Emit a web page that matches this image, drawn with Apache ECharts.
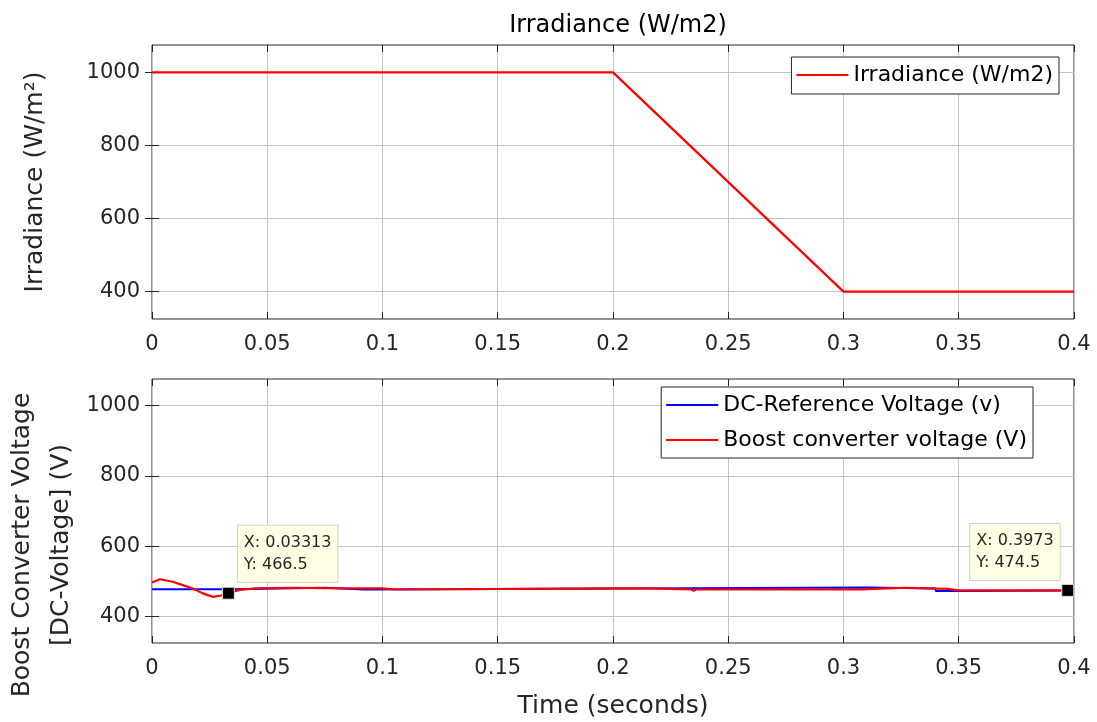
<!DOCTYPE html>
<html>
<head>
    <meta charset="UTF-8">
    <title>Irradiance and boost converter voltage</title>
    <script src="https://cdn.jsdelivr.net/npm/echarts/dist/echarts.min.js"></script>
    <style>
        body {margin: 0; background: #fff;}
        #main {width: 1097px; height: 722px;}
    </style>
</head>
<body>
<div id="main"></div>
<script>
    // irradiance profile (top plot)
    var irrTime = [0, 0.2, 0.3, 0.4];
    var irrValue = [1000, 1000, 400, 400];

    // DC reference voltage (blue)
    var refTime = [0, 0.035, 0.035, 0.075, 0.075, 0.092, 0.092, 0.207, 0.207, 0.311, 0.311, 0.34, 0.34, 0.348, 0.348, 0.4];
    var refVolt = [478, 478, 482, 482, 477, 477, 480, 480, 483, 483, 480, 480, 473, 473, 474.5, 474.5];

    // boost converter voltage (red)
    var boostTime = [0, 0.0035, 0.009, 0.014, 0.018, 0.022, 0.0265, 0.030, 0.03313, 0.038, 0.045, 0.05, 0.06, 0.075,
        0.1, 0.1005, 0.106, 0.1065, 0.2, 0.215, 0.2155, 0.234, 0.235, 0.236, 0.308, 0.3085, 0.319, 0.3195, 0.327, 0.3275,
        0.345, 0.35, 0.3973, 0.4];
    var boostVolt = [497, 506, 499, 488, 479, 466, 456, 460, 466.5, 476, 480, 481, 482, 481,
        480, 477, 477, 480, 480, 480, 477, 477, 473, 477, 477, 480, 480, 482, 482, 479,
        479, 474.5, 474.5, 474.5];

    // data tips [x, y]
    var datatips = [[0.03313, 466.5], [0.3973, 474.5]];

    var yTicks = [400, 600, 800, 1000];
    var yMin = 325, yMax = 1075;

    var font = 'DejaVu Sans, Liberation Sans, Arial, sans-serif';
    var ink = '#262626';

    function zip(xs, ys) {
        var out = [];
        for (var i = 0; i < xs.length; i++) out.push([xs[i], ys[i]]);
        return out;
    }

    function plain(v) { return String(v); }

    function xAxisFor(grid, isMain, name) {
        return {
            type: 'value', gridIndex: grid, min: 0, max: 0.4, interval: 0.05,
            position: isMain ? 'bottom' : 'top',
            axisLine: {show: false},
            axisTick: {show: true, inside: true, length: 7, lineStyle: {color: ink}},
            axisLabel: {show: isMain, margin: 15, fontSize: 21, color: ink, fontFamily: font, formatter: plain},
            splitLine: {show: isMain, lineStyle: {color: '#c4c4c4', width: 1}},
            name: name || '', nameLocation: 'middle', nameGap: 51, nameMoveOverlap: false,
            nameTextStyle: {fontSize: 25, color: ink, fontFamily: font}
        };
    }

    function yAxisFor(grid, isMain, name, nameGap, extra) {
        var ax = {
            type: 'value', gridIndex: grid, min: yMin, max: yMax,
            position: isMain ? 'left' : 'right',
            axisLine: {show: false},
            axisTick: {show: true, inside: true, length: 7, customValues: yTicks, lineStyle: {color: ink}},
            axisLabel: {show: isMain, margin: 12, fontSize: 21, color: ink, fontFamily: font, customValues: yTicks, formatter: plain},
            splitLine: {show: isMain, lineStyle: {color: '#c4c4c4', width: 1}},
            name: name || '', nameLocation: 'middle', nameGap: nameGap || 0, nameMoveOverlap: false,
            nameTextStyle: {fontSize: 25, color: ink, fontFamily: font}
        };
        if (extra) for (var k in extra) ax.nameTextStyle[k] = extra[k];
        return ax;
    }

    var tipData = datatips.map(function (d, i) {
        return {
            coord: d,
            label: {position: i === 0 ? [16, -61] : [-91, -60]}
        };
    });

    var myChart = echarts.init(document.getElementById('main'));
    var option = {
        backgroundColor: '#fff',
        animation: false,
        title: {
            text: 'Irradiance (W/m2)',
            left: 613, top: 9, textAlign: 'center',
            textStyle: {fontSize: 24, fontWeight: 'normal', color: '#000', fontFamily: font}
        },
        grid: [
            {left: 152, right: 23, top: 45, height: 274, show: true, borderColor: ink, borderWidth: 1,
                backgroundColor: '#fff', containLabel: false, outerBoundsMode: 'none'},
            {left: 152, right: 23, top: 379, height: 264, show: true, borderColor: ink, borderWidth: 1,
                backgroundColor: '#fff', containLabel: false, outerBoundsMode: 'none'}
        ],
        legend: [
            {
                data: ['Irradiance (W/m2)'],
                right: 38, top: 57, orient: 'vertical',
                icon: 'rect', itemWidth: 52, itemHeight: 2,
                backgroundColor: '#fff', borderColor: ink, borderWidth: 1,
                padding: [5, 6, 6, 5],
                textStyle: {fontSize: 22, lineHeight: 26, color: '#000', fontFamily: font}
            },
            {
                data: ['DC-Reference Voltage (v)', 'Boost converter voltage (V)'],
                right: 64, top: 387, orient: 'vertical', itemGap: 9,
                icon: 'rect', itemWidth: 52, itemHeight: 2,
                backgroundColor: '#fff', borderColor: ink, borderWidth: 1,
                padding: [5, 6, 5, 5],
                textStyle: {fontSize: 22, lineHeight: 26, color: '#000', fontFamily: font}
            }
        ],
        xAxis: [
            xAxisFor(0, true), xAxisFor(0, false),
            xAxisFor(1, true, 'Time (seconds)'), xAxisFor(1, false)
        ],
        yAxis: [
            yAxisFor(0, true, 'Irradiance (W/m\u00b2)', 104),
            yAxisFor(0, false),
            yAxisFor(1, true, 'Boost Converter Voltage\n[DC-Voltage] (V)', 71, {lineHeight: 39, padding: [0, 68, 0, 0]}),
            yAxisFor(1, false)
        ],
        series: [
            {
                name: 'Irradiance (W/m2)', type: 'line', xAxisIndex: 0, yAxisIndex: 0,
                data: zip(irrTime, irrValue), symbol: 'none', color: '#ff0000',
                lineStyle: {width: 2.2, color: '#ff0000'}
            },
            {
                name: 'DC-Reference Voltage (v)', type: 'line', xAxisIndex: 2, yAxisIndex: 2,
                data: zip(refTime, refVolt), symbol: 'none', color: '#0000ff',
                lineStyle: {width: 2, color: '#0000ff'}
            },
            {
                name: 'Boost converter voltage (V)', type: 'line', xAxisIndex: 2, yAxisIndex: 2,
                data: zip(boostTime, boostVolt), symbol: 'none', color: '#ff0000',
                lineStyle: {width: 2.2, color: '#ff0000'},
                markPoint: {
                    symbol: 'rect', symbolSize: 12,
                    itemStyle: {color: '#000', borderColor: '#e6e6c8', borderWidth: 1},
                    label: {
                        show: true, align: 'left', verticalAlign: 'top',
                        formatter: function (p) { return 'X: ' + p.data.coord[0] + '\nY: ' + p.data.coord[1]; },
                        backgroundColor: '#ffffe6', borderColor: '#d2d2be', borderWidth: 1,
                        padding: [6, 6, 6, 6], fontSize: 16, lineHeight: 22, color: ink, fontFamily: font
                    },
                    data: tipData
                }
            }
        ]
    };
    myChart.setOption(option);
</script>
</body>
</html>
